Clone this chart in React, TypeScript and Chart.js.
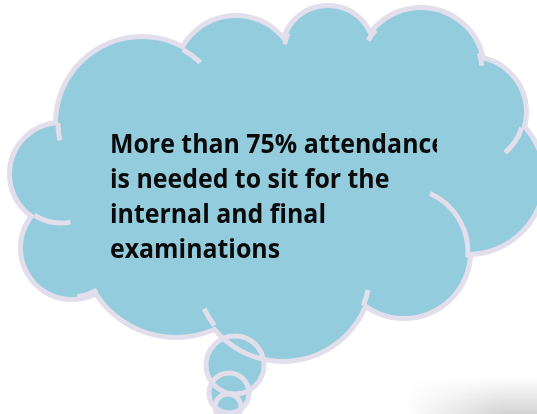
import React, { useEffect, useRef } from "react";
import { Chart, registerables } from "chart.js";

Chart.register(...registerables);

const W = 537;
const H = 414;

// Cloud lobes (outline + fill)
const lobeX = [142, 61, 72, 176, 283, 404, 468, 471, 421, 328, 236];
const lobeY = [123, 174, 248, 242, 272, 252, 178, 112, 71, 52, 77];
const lobeR = [84, 49, 49, 93, 87, 64, 74, 53, 61, 44, 59];

// Inner body of the cloud (fill only)
const bodyX = [300];
const bodyY = [180];
const bodyR = [120];

// Inner crease arcs: lobe index, start / end angle in degrees
const creaseLobe = [0, 0, 1, 2, 4, 9, 8, 8, 7, 5, 4];
const creaseStart = [-61, 168, 79, 59, 142, 190, 210, -17, 17, -66, 12];
const creaseEnd = [-46, 180, 123, 84, 155, 205, 222, -5, 50, 5, 23];

// Thought bubbles of the tail
const tailX = [235, 229, 228];
const tailY = [365, 393, 407];
const tailR = [29, 20, 13];

const textLines = [
  "More than 75% attendance",
  "is needed to sit for the",
  "internal and final",
  "examinations",
];

const FILL = "rgb(147,204,221)";
const LINE = "rgb(226,222,236)";

const pts = (xs: number[], ys: number[], rs: number[]) =>
  xs.map((x, i) => ({ x, y: ys[i], r: rs[i] }));

const cloudPlugin = {
  id: "cloudExtras",
  beforeDatasetsDraw(chart: any) {
    const ctx = chart.ctx as CanvasRenderingContext2D;
    ctx.save();
    const g = ctx.createLinearGradient(0, 378, 0, 414);
    g.addColorStop(0, "rgba(0,0,0,0)");
    g.addColorStop(1, "rgba(0,0,0,0.17)");
    ctx.fillStyle = g;
    ctx.fillRect(405, 378, W - 405, H - 378);
    const g2 = ctx.createLinearGradient(405, 0, 500, 0);
    g2.addColorStop(0, "rgba(255,255,255,1)");
    g2.addColorStop(1, "rgba(255,255,255,0)");
    ctx.fillStyle = g2;
    ctx.fillRect(405, 378, W - 405, H - 378);
    ctx.restore();
  },
  afterDatasetsDraw(chart: any) {
    const ctx = chart.ctx as CanvasRenderingContext2D;
    const xs = chart.scales.x;
    const ys = chart.scales.y;
    ctx.save();
    ctx.strokeStyle = LINE;
    ctx.lineWidth = 5;
    ctx.lineCap = "butt";
    creaseLobe.forEach((li, i) => {
      const cx = xs.getPixelForValue(lobeX[li]);
      const cy = ys.getPixelForValue(lobeY[li]);
      ctx.beginPath();
      ctx.arc(cx, cy, lobeR[li], (creaseStart[i] * Math.PI) / 180, (creaseEnd[i] * Math.PI) / 180);
      ctx.stroke();
    });
    ctx.restore();

    ctx.save();
    ctx.beginPath();
    ctx.rect(0, 0, 437, H);
    ctx.clip();
    ctx.fillStyle = "#0a0a0a";
    ctx.font = "bold 27px 'Open Sans'";
    ctx.textBaseline = "alphabetic";
    const w0 = ctx.measureText(textLines[0]).width;
    const sx = 336 / w0;
    const baselines = [153, 188, 223, 258];
    textLines.forEach((t, i) => {
      ctx.save();
      ctx.translate(110, baselines[i]);
      ctx.scale(sx, 1);
      ctx.fillText(t, 0, 0);
      ctx.restore();
    });
    ctx.restore();
  },
};

export default function App() {
  const ref = useRef<HTMLCanvasElement | null>(null);
  useEffect(() => {
    if (!ref.current) return;
    const chart = new Chart(ref.current, {
      type: "bubble",
      data: {
        datasets: [
          {
            label: "tail outline",
            data: pts(tailX, tailY, tailR),
            backgroundColor: "rgba(0,0,0,0)",
            borderColor: LINE,
            borderWidth: 5,
            order: 1,
            clip: false,
          },
          {
            label: "cloud fill",
            data: [...pts(lobeX, lobeY, lobeR), ...pts(bodyX, bodyY, bodyR)],
            backgroundColor: FILL,
            borderWidth: 0,
            order: 2,
            clip: false,
          },
          {
            label: "cloud outline",
            data: pts(lobeX, lobeY, lobeR),
            backgroundColor: "rgba(0,0,0,0)",
            borderColor: LINE,
            borderWidth: 10,
            order: 3,
            clip: false,
          },
          {
            label: "tail fill",
            data: pts(tailX, tailY, tailR),
            backgroundColor: FILL,
            borderWidth: 0,
            order: 4,
            clip: false,
          },
        ],
      },
      options: {
        animation: false,
        responsive: false,
        events: [],
        layout: { padding: 0, autoPadding: false },
        plugins: { legend: { display: false }, tooltip: { enabled: false }, title: { display: false } },
        scales: {
          x: { type: "linear", min: 0, max: W, display: false },
          y: { type: "linear", min: 0, max: H, reverse: true, display: false },
        },
        elements: { point: { hoverRadius: 0, hoverBorderWidth: 0 } },
      },
      plugins: [cloudPlugin],
    });
    return () => chart.destroy();
  }, []);
  return (
    <div style={{ position: "fixed", left: 0, top: 0, width: W, height: H, background: "#fff" }}>
      <canvas ref={ref} width={W} height={H} style={{ width: W, height: H, display: "block" }} />
    </div>
  );
}
